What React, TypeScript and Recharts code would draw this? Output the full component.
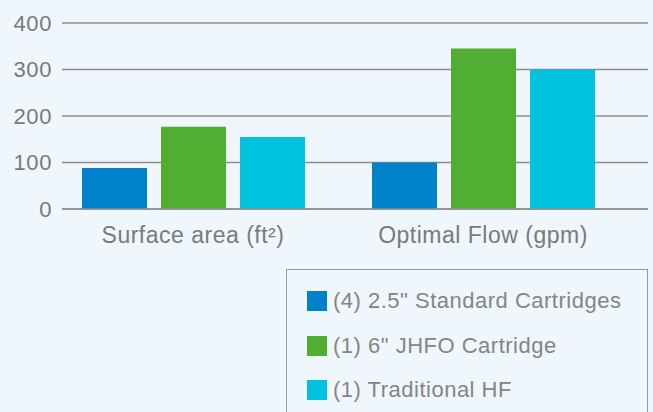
import React from 'react';
import { BarChart, Bar, XAxis, YAxis, CartesianGrid, Legend } from 'recharts';

const categories = ['Surface area (ft²)', 'Optimal Flow (gpm)'];
const standardCartridges = [88, 100];
const jhfoCartridge = [177, 345];
const traditionalHF = [155, 300];
const yTicks = [0, 100, 200, 300, 400];

const SERIES = [
  { key: 'standard', name: '(4) 2.5" Standard Cartridges', color: '#0082ca' },
  { key: 'jhfo', name: '(1) 6" JHFO Cartridge', color: '#52ae32' },
  { key: 'traditional', name: '(1) Traditional HF', color: '#00c1de' },
];

const data = categories.map((name, i) => ({
  name,
  standard: standardCartridges[i],
  jhfo: jhfoCartridge[i],
  traditional: traditionalHF[i],
}));

const FONT = '"Liberation Sans", Arial, Helvetica, sans-serif';
const TEXT = '#7a7a7a';

const LegendBox = () => (
  <div
    style={{
      boxSizing: 'border-box',
      width: 362,
      height: 170,
      border: '1.5px solid #9a9a9a',
      padding: '21px 0 0 20px',
      fontFamily: FONT,
      fontSize: 22,
      color: '#858585',
    }}
  >
    {SERIES.map((s) => (
      <div key={s.key} style={{ display: 'flex', alignItems: 'center', height: 20, marginBottom: 24.5 }}>
        <span style={{ width: 20, height: 20, background: s.color, marginRight: 6, flexShrink: 0 }} />
        <span style={{ whiteSpace: 'nowrap', letterSpacing: 0.5 }}>{s.name}</span>
      </div>
    ))}
  </div>
);

export default function App() {
  return (
    <div style={{ position: 'absolute', top: 0, left: 0, width: 653, height: 412, background: '#eff6fc', overflow: 'hidden' }}>
      <BarChart
        width={653}
        height={412}
        data={data}
        margin={{ top: 23, right: 5, left: 0, bottom: 163 }}
        barSize={65}
        barGap={14}
      >
        <CartesianGrid vertical={false} stroke="#8f8f8f" strokeWidth={1.3} />
        <XAxis
          dataKey="name"
          height={40}
          padding={{ left: -14, right: 20 }}
          tickLine={false}
          tickSize={0}
          tickMargin={18}
          axisLine={{ stroke: '#8f8f8f', strokeWidth: 1.3 }}
          tick={{ fill: TEXT, fontSize: 23, fontFamily: FONT, letterSpacing: 0.5 }}
        />
        <YAxis
          width={62}
          domain={[0, 400]}
          ticks={yTicks}
          axisLine={false}
          tickLine={false}
          tickSize={0}
          tickMargin={10}
          tick={{ fill: TEXT, fontSize: 22, fontFamily: FONT, letterSpacing: 0.6 }}
        />
        <Legend
          layout="vertical"
          verticalAlign="middle"
          align="center"
          content={<LegendBox />}
          wrapperStyle={{ top: 269, left: 286, width: 362 }}
        />
        {SERIES.map((s) => (
          <Bar key={s.key} dataKey={s.key} name={s.name} fill={s.color} isAnimationActive={false} />
        ))}
      </BarChart>
    </div>
  );
}
